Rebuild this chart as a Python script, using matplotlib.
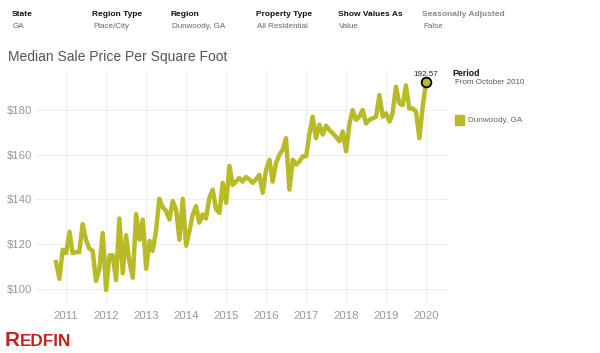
import pandas as pd
import matplotlib.pyplot as plt
import matplotlib.dates as mdates
from matplotlib.patches import Rectangle

plt.rcParams['font.family'] = ['Liberation Sans', 'DejaVu Sans']

# monthly median sale price per sq ft, Dunwoody GA, Oct 2010 - Jan 2020
prices = [
    112, 104.5, 117.5, 116, 125.5, 116, 116.5, 116.5, 129, 122, 118, 117,
    103.5, 109, 125, 99.5, 115, 115, 104, 131.5, 107, 124, 112, 105,
    133.5, 122, 131, 109, 121.5, 117, 126, 140.3, 136.5, 135, 131, 139.3,
    135.5, 122, 140.3, 119.3, 126, 133, 137, 129.6, 133.3, 131.5, 140.7, 144.4,
    135.6, 134, 147.4, 138.5, 155, 146.5, 148, 149.6, 148, 150, 149, 147.4,
    149, 151, 143, 153.3, 157.8, 148, 156.3, 160, 162.2, 167.4, 144.4, 157.8,
    155.6, 157, 159.3, 159.3, 169.6, 177, 167.4, 173.5, 169, 173, 171, 169.6,
    168, 166, 170.4, 161.5, 174, 180, 175.6, 177, 180, 174, 175.6, 176.3,
    177, 186.7, 177, 178.5, 174.8, 178.5, 190.4, 183, 182.2, 191, 180.7, 180.7,
    179.3, 167.4, 181.5, 192.57,
]
dates = pd.date_range('2010-10-01', periods=len(prices), freq='MS')
years = list(range(2011, 2021))
y_ticks = [100, 120, 140, 160, 180]

header_labels = ['State', 'Region Type', 'Region', 'Property Type',
                 'Show Values As', 'Seasonally Adjusted']
header_values = ['GA', 'Place/City', 'Dunwoody, GA', 'All Residential',
                 'Value', 'False']
header_x = [12, 92, 171, 256, 338, 422]

line_color = '#b8ba28'

fig = plt.figure(figsize=(6, 3.53), dpi=100)
W, H = 600, 353

def fx(px):
    return px / W

def fy(py):
    return 1 - py / H

ax = fig.add_axes([fx(36), fy(303), fx(447) - fx(36), fy(70) - fy(303)])
ax.plot(dates, prices, color=line_color, lw=3.2, solid_joinstyle='round')
ax.plot(dates[-1], prices[-1], 'o', ms=7, mfc=line_color, mec='black', mew=1.3)
ax.annotate(f'{prices[-1]:.2f}', (dates[-1], prices[-1]), xytext=(0, 2.5),
            textcoords='offset points', ha='center', va='bottom',
            fontsize=5.8, color='#222222')

ax.set_xlim(pd.Timestamp('2010-04-01'), pd.Timestamp('2020-07-10'))
ax.set_ylim(93.7, 197.9)
ax.set_xticks([pd.Timestamp(f'{y}-01-01') for y in years])
ax.xaxis.set_major_formatter(mdates.DateFormatter('%Y'))
ax.set_yticks(y_ticks)
ax.set_yticklabels([f'${v}' for v in y_ticks])
ax.tick_params(length=0, labelsize=8.2, labelcolor='#999999')
ax.tick_params(axis='x', pad=6)
ax.tick_params(axis='y', pad=3)
ax.grid(True, color='#eeeeee', lw=0.8)
for s in ax.spines.values():
    s.set_visible(False)

# header filters
for lbl, val, x in zip(header_labels, header_values, header_x):
    c = '#888888' if lbl == 'Seasonally Adjusted' else '#111111'
    fig.text(fx(x), fy(15), lbl, fontsize=6, weight='bold', color=c, va='center')
    fig.text(fx(x + 1), fy(26), val, fontsize=5.8, color='#666666', va='center')

fig.text(fx(8), fy(57), 'Median Sale Price Per Square Foot', fontsize=10,
         color='#555555', va='center')

# legend
fig.text(fx(452), fy(73), 'Period', fontsize=6.3, weight='bold', color='#111111', va='center')
fig.text(fx(455), fy(82), 'From October 2010', fontsize=5.8, color='#555555', va='center')
fig.patches.append(Rectangle((fx(455), fy(125)), fx(9), fy(115) - fy(125),
                             transform=fig.transFigure, color=line_color))
fig.text(fx(468), fy(120), 'Dunwoody, GA', fontsize=5.9, color='#666666', va='center')

# logo
fig.text(fx(5), fy(340), 'R', fontsize=15, weight='bold', color='#c82021', va='center')
fig.text(fx(20), fy(341), 'EDFIN', fontsize=12.3, weight='bold', color='#c82021', va='center')

fig.savefig('out.png', dpi=100)
